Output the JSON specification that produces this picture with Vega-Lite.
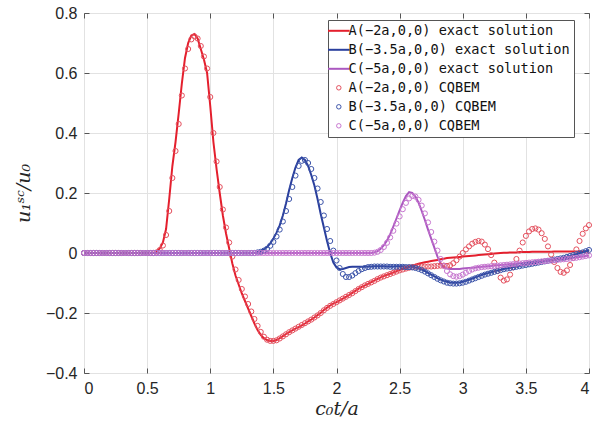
{
"$schema": "https://vega.github.io/schema/vega-lite/v6.json",
"width": 505, "height": 360,
"autosize": {"type": "none"},
"padding": {"left": 84, "top": 13, "right": 17, "bottom": 50},
"background": "white",
"config": {
  "view": {"stroke": "#3a3a3a", "strokeWidth": 1},
  "axis": {"labelFont": "Liberation Sans", "labelFontSize": 16, "labelColor": "#262626", "gridColor": "#e2e2e2", "gridWidth": 1, "domain": false, "tickColor": "#555", "tickSize": -5, "tickWidth": 1, "titleColor": "#262626", "titleFont": "DejaVu Serif", "titleFontStyle": "italic", "titleFontWeight": "normal", "titleFontSize": 19}
},
"data": {"values": [
{"t":0,"A":0,"B":0,"C":0,"a":0,"b":0,"c":0},
{"t":0.025,"A":0,"B":0,"C":0,"a":0,"b":0,"c":0},
{"t":0.05,"A":0,"B":0,"C":0,"a":0,"b":0,"c":0},
{"t":0.075,"A":0,"B":0,"C":0,"a":0,"b":0,"c":0},
{"t":0.1,"A":0,"B":0,"C":0,"a":0,"b":0,"c":0},
{"t":0.125,"A":0,"B":0,"C":0,"a":0,"b":0,"c":0},
{"t":0.15,"A":0,"B":0,"C":0,"a":0,"b":0,"c":0},
{"t":0.175,"A":0,"B":0,"C":0,"a":0,"b":0,"c":0},
{"t":0.2,"A":0,"B":0,"C":0,"a":0,"b":0,"c":0},
{"t":0.225,"A":0,"B":0,"C":0,"a":0,"b":0,"c":0},
{"t":0.25,"A":0,"B":0,"C":0,"a":0,"b":0,"c":0},
{"t":0.275,"A":0,"B":0,"C":0,"a":0,"b":0,"c":0},
{"t":0.3,"A":0,"B":0,"C":0,"a":0,"b":0,"c":0},
{"t":0.325,"A":0,"B":0,"C":0,"a":0,"b":0,"c":0},
{"t":0.35,"A":0,"B":0,"C":0,"a":0,"b":0,"c":0},
{"t":0.375,"A":0,"B":0,"C":0,"a":0,"b":0,"c":0},
{"t":0.4,"A":0,"B":0,"C":0,"a":0,"b":0,"c":0},
{"t":0.425,"A":0,"B":0,"C":0,"a":0,"b":0,"c":0},
{"t":0.45,"A":0,"B":0,"C":0,"a":0,"b":0,"c":0},
{"t":0.475,"A":0,"B":0,"C":0,"a":0,"b":0,"c":0},
{"t":0.5,"A":0,"B":0,"C":0,"a":0,"b":0,"c":0},
{"t":0.525,"A":0,"B":0,"C":0,"a":0,"b":0,"c":0},
{"t":0.55,"A":0,"B":0,"C":0,"a":0,"b":0,"c":0},
{"t":0.575,"A":0.005,"B":0,"C":0,"a":0.002,"b":0,"c":0},
{"t":0.6,"A":0.015,"B":0,"C":0,"a":0.01,"b":0,"c":0},
{"t":0.625,"A":0.035,"B":0,"C":0,"a":0.025,"b":0,"c":0},
{"t":0.65,"A":0.08,"B":0,"C":0,"a":0.06,"b":0,"c":0},
{"t":0.675,"A":0.18,"B":0,"C":0,"a":0.14,"b":0,"c":0},
{"t":0.7,"A":0.29,"B":0,"C":0,"a":0.25,"b":0,"c":0},
{"t":0.725,"A":0.37,"B":0,"C":0,"a":0.34,"b":0,"c":0},
{"t":0.75,"A":0.465,"B":0,"C":0,"a":0.43,"b":0,"c":0},
{"t":0.775,"A":0.565,"B":0,"C":0,"a":0.525,"b":0,"c":0},
{"t":0.8,"A":0.65,"B":0,"C":0,"a":0.615,"b":0,"c":0},
{"t":0.825,"A":0.7,"B":0,"C":0,"a":0.68,"b":0,"c":0},
{"t":0.85,"A":0.725,"B":0,"C":0,"a":0.712,"b":0,"c":0},
{"t":0.875,"A":0.73,"B":0,"C":0,"a":0.722,"b":0,"c":0},
{"t":0.9,"A":0.715,"B":0,"C":0,"a":0.715,"b":0,"c":0},
{"t":0.925,"A":0.68,"B":0,"C":0,"a":0.69,"b":0,"c":0},
{"t":0.95,"A":0.645,"B":0,"C":0,"a":0.655,"b":0,"c":0},
{"t":0.975,"A":0.6,"B":0,"C":0,"a":0.615,"b":0,"c":0},
{"t":1.0,"A":0.49,"B":0,"C":0,"a":0.52,"b":0,"c":0},
{"t":1.025,"A":0.37,"B":0,"C":0,"a":0.4,"b":0,"c":0},
{"t":1.05,"A":0.28,"B":0,"C":0,"a":0.305,"b":0,"c":0},
{"t":1.075,"A":0.2,"B":0,"C":0,"a":0.22,"b":0,"c":0},
{"t":1.1,"A":0.125,"B":0,"C":0,"a":0.145,"b":0,"c":0},
{"t":1.125,"A":0.065,"B":0,"C":0,"a":0.085,"b":0,"c":0},
{"t":1.15,"A":0.015,"B":0,"C":0,"a":0.035,"b":0,"c":0},
{"t":1.175,"A":-0.035,"B":0,"C":0,"a":-0.012,"b":0,"c":0},
{"t":1.2,"A":-0.075,"B":0,"C":0,"a":-0.055,"b":0,"c":0},
{"t":1.225,"A":-0.105,"B":0,"C":0,"a":-0.09,"b":0,"c":0},
{"t":1.25,"A":-0.135,"B":0,"C":0,"a":-0.12,"b":0,"c":0},
{"t":1.275,"A":-0.16,"B":0,"C":0,"a":-0.145,"b":0,"c":0},
{"t":1.3,"A":-0.185,"B":0,"C":0,"a":-0.17,"b":0,"c":0},
{"t":1.325,"A":-0.21,"B":0,"C":0,"a":-0.195,"b":0,"c":0},
{"t":1.35,"A":-0.235,"B":0,"C":0,"a":-0.22,"b":0,"c":0},
{"t":1.375,"A":-0.257,"B":0.003,"C":0,"a":-0.243,"b":0.002,"c":0},
{"t":1.4,"A":-0.273,"B":0.006,"C":0,"a":-0.263,"b":0.004,"c":0},
{"t":1.425,"A":-0.284,"B":0.012,"C":0,"a":-0.279,"b":0.008,"c":0},
{"t":1.45,"A":-0.29,"B":0.02,"C":0,"a":-0.289,"b":0.014,"c":0},
{"t":1.475,"A":-0.293,"B":0.032,"C":0,"a":-0.293,"b":0.024,"c":0},
{"t":1.5,"A":-0.293,"B":0.048,"C":0,"a":-0.293,"b":0.037,"c":0},
{"t":1.525,"A":-0.29,"B":0.068,"C":0,"a":-0.291,"b":0.055,"c":0},
{"t":1.55,"A":-0.284,"B":0.092,"C":0,"a":-0.285,"b":0.078,"c":0},
{"t":1.575,"A":-0.277,"B":0.125,"C":0,"a":-0.278,"b":0.105,"c":0},
{"t":1.6,"A":-0.27,"B":0.165,"C":0,"a":-0.271,"b":0.14,"c":0},
{"t":1.625,"A":-0.264,"B":0.21,"C":0,"a":-0.264,"b":0.18,"c":0},
{"t":1.65,"A":-0.258,"B":0.25,"C":0,"a":-0.258,"b":0.22,"c":0},
{"t":1.675,"A":-0.252,"B":0.285,"C":0,"a":-0.252,"b":0.258,"c":0},
{"t":1.7,"A":-0.247,"B":0.31,"C":0,"a":-0.246,"b":0.29,"c":0},
{"t":1.725,"A":-0.241,"B":0.318,"C":0,"a":-0.24,"b":0.307,"c":0},
{"t":1.75,"A":-0.235,"B":0.31,"C":0,"a":-0.234,"b":0.31,"c":0},
{"t":1.775,"A":-0.228,"B":0.29,"C":0,"a":-0.228,"b":0.3,"c":0},
{"t":1.8,"A":-0.222,"B":0.26,"C":0,"a":-0.222,"b":0.28,"c":0},
{"t":1.825,"A":-0.215,"B":0.225,"C":0,"a":-0.215,"b":0.25,"c":0},
{"t":1.85,"A":-0.207,"B":0.18,"C":0,"a":-0.208,"b":0.215,"c":0},
{"t":1.875,"A":-0.199,"B":0.13,"C":0,"a":-0.2,"b":0.17,"c":0},
{"t":1.9,"A":-0.19,"B":0.085,"C":0,"a":-0.191,"b":0.125,"c":0},
{"t":1.925,"A":-0.182,"B":0.04,"C":0,"a":-0.183,"b":0.08,"c":0},
{"t":1.95,"A":-0.175,"B":0,"C":0,"a":-0.176,"b":0.04,"c":0},
{"t":1.975,"A":-0.169,"B":-0.032,"C":0,"a":-0.17,"b":0.008,"c":0},
{"t":2.0,"A":-0.164,"B":-0.048,"C":0,"a":-0.164,"b":-0.025,"c":0},
{"t":2.025,"A":-0.158,"B":-0.054,"C":0,"a":-0.158,"b":-0.05,"c":0},
{"t":2.05,"A":-0.152,"B":-0.053,"C":0,"a":-0.152,"b":-0.07,"c":0},
{"t":2.075,"A":-0.146,"B":-0.05,"C":0,"a":-0.146,"b":-0.08,"c":0},
{"t":2.1,"A":-0.14,"B":-0.047,"C":0,"a":-0.14,"b":-0.08,"c":0},
{"t":2.125,"A":-0.133,"B":-0.046,"C":0,"a":-0.134,"b":-0.075,"c":0},
{"t":2.15,"A":-0.126,"B":-0.046,"C":0,"a":-0.127,"b":-0.067,"c":0},
{"t":2.175,"A":-0.119,"B":-0.046,"C":0,"a":-0.12,"b":-0.06,"c":0},
{"t":2.2,"A":-0.113,"B":-0.046,"C":0,"a":-0.114,"b":-0.054,"c":0},
{"t":2.225,"A":-0.108,"B":-0.046,"C":0,"a":-0.108,"b":-0.05,"c":0},
{"t":2.25,"A":-0.103,"B":-0.045,"C":0,"a":-0.103,"b":-0.047,"c":0},
{"t":2.275,"A":-0.097,"B":-0.045,"C":0,"a":-0.098,"b":-0.046,"c":0},
{"t":2.3,"A":-0.092,"B":-0.044,"C":0.002,"a":-0.093,"b":-0.045,"c":0.001},
{"t":2.325,"A":-0.086,"B":-0.044,"C":0.006,"a":-0.087,"b":-0.045,"c":0.004},
{"t":2.35,"A":-0.081,"B":-0.044,"C":0.014,"a":-0.082,"b":-0.045,"c":0.01},
{"t":2.375,"A":-0.077,"B":-0.044,"C":0.026,"a":-0.078,"b":-0.045,"c":0.02},
{"t":2.4,"A":-0.073,"B":-0.045,"C":0.042,"a":-0.074,"b":-0.045,"c":0.034},
{"t":2.425,"A":-0.069,"B":-0.045,"C":0.062,"a":-0.07,"b":-0.046,"c":0.052},
{"t":2.45,"A":-0.065,"B":-0.045,"C":0.088,"a":-0.066,"b":-0.046,"c":0.074},
{"t":2.475,"A":-0.061,"B":-0.044,"C":0.115,"a":-0.062,"b":-0.046,"c":0.098},
{"t":2.5,"A":-0.057,"B":-0.044,"C":0.142,"a":-0.058,"b":-0.046,"c":0.122},
{"t":2.525,"A":-0.053,"B":-0.044,"C":0.168,"a":-0.055,"b":-0.046,"c":0.146},
{"t":2.55,"A":-0.05,"B":-0.045,"C":0.19,"a":-0.052,"b":-0.047,"c":0.167},
{"t":2.575,"A":-0.046,"B":-0.045,"C":0.203,"a":-0.049,"b":-0.047,"c":0.182},
{"t":2.6,"A":-0.042,"B":-0.046,"C":0.2,"a":-0.047,"b":-0.048,"c":0.19},
{"t":2.625,"A":-0.039,"B":-0.048,"C":0.188,"a":-0.046,"b":-0.05,"c":0.188},
{"t":2.65,"A":-0.036,"B":-0.051,"C":0.168,"a":-0.045,"b":-0.053,"c":0.177},
{"t":2.675,"A":-0.033,"B":-0.055,"C":0.14,"a":-0.045,"b":-0.057,"c":0.158},
{"t":2.7,"A":-0.031,"B":-0.06,"C":0.11,"a":-0.045,"b":-0.062,"c":0.132},
{"t":2.725,"A":-0.029,"B":-0.066,"C":0.078,"a":-0.045,"b":-0.068,"c":0.102},
{"t":2.75,"A":-0.027,"B":-0.072,"C":0.048,"a":-0.045,"b":-0.074,"c":0.07},
{"t":2.775,"A":-0.025,"B":-0.078,"C":0.018,"a":-0.044,"b":-0.08,"c":0.038},
{"t":2.8,"A":-0.023,"B":-0.084,"C":-0.012,"a":-0.043,"b":-0.086,"c":0.008},
{"t":2.825,"A":-0.021,"B":-0.089,"C":-0.035,"a":-0.042,"b":-0.091,"c":-0.02},
{"t":2.85,"A":-0.019,"B":-0.093,"C":-0.047,"a":-0.042,"b":-0.095,"c":-0.043},
{"t":2.875,"A":-0.017,"B":-0.096,"C":-0.052,"a":-0.043,"b":-0.099,"c":-0.06},
{"t":2.9,"A":-0.016,"B":-0.098,"C":-0.053,"a":-0.041,"b":-0.101,"c":-0.071},
{"t":2.925,"A":-0.015,"B":-0.099,"C":-0.053,"a":-0.034,"b":-0.102,"c":-0.077},
{"t":2.95,"A":-0.014,"B":-0.099,"C":-0.053,"a":-0.024,"b":-0.102,"c":-0.079},
{"t":2.975,"A":-0.013,"B":-0.098,"C":-0.053,"a":-0.012,"b":-0.101,"c":-0.077},
{"t":3.0,"A":-0.012,"B":-0.096,"C":-0.052,"a":0,"b":-0.099,"c":-0.072},
{"t":3.025,"A":-0.011,"B":-0.093,"C":-0.051,"a":0.012,"b":-0.096,"c":-0.066},
{"t":3.05,"A":-0.01,"B":-0.089,"C":-0.05,"a":0.022,"b":-0.092,"c":-0.06},
{"t":3.075,"A":-0.009,"B":-0.085,"C":-0.049,"a":0.031,"b":-0.088,"c":-0.055},
{"t":3.1,"A":-0.008,"B":-0.081,"C":-0.048,"a":0.037,"b":-0.084,"c":-0.051},
{"t":3.125,"A":-0.007,"B":-0.077,"C":-0.047,"a":0.04,"b":-0.08,"c":-0.049},
{"t":3.15,"A":-0.006,"B":-0.073,"C":-0.046,"a":0.038,"b":-0.076,"c":-0.047},
{"t":3.175,"A":-0.005,"B":-0.07,"C":-0.045,"a":0.028,"b":-0.072,"c":-0.046},
{"t":3.2,"A":-0.004,"B":-0.067,"C":-0.044,"a":0.013,"b":-0.069,"c":-0.045},
{"t":3.225,"A":-0.003,"B":-0.064,"C":-0.043,"a":-0.007,"b":-0.066,"c":-0.044},
{"t":3.25,"A":-0.002,"B":-0.061,"C":-0.042,"a":-0.032,"b":-0.063,"c":-0.043},
{"t":3.275,"A":-0.001,"B":-0.058,"C":-0.041,"a":-0.06,"b":-0.06,"c":-0.042},
{"t":3.3,"A":0,"B":-0.056,"C":-0.04,"a":-0.082,"b":-0.057,"c":-0.041},
{"t":3.325,"A":0.001,"B":-0.053,"C":-0.039,"a":-0.092,"b":-0.054,"c":-0.04},
{"t":3.35,"A":0.001,"B":-0.051,"C":-0.038,"a":-0.088,"b":-0.052,"c":-0.039},
{"t":3.375,"A":0.002,"B":-0.049,"C":-0.037,"a":-0.072,"b":-0.05,"c":-0.038},
{"t":3.4,"A":0.002,"B":-0.047,"C":-0.036,"a":-0.048,"b":-0.048,"c":-0.037},
{"t":3.425,"A":0.002,"B":-0.045,"C":-0.035,"a":-0.02,"b":-0.046,"c":-0.036},
{"t":3.45,"A":0.003,"B":-0.043,"C":-0.034,"a":0.008,"b":-0.044,"c":-0.035},
{"t":3.475,"A":0.003,"B":-0.041,"C":-0.033,"a":0.035,"b":-0.042,"c":-0.034},
{"t":3.5,"A":0.003,"B":-0.039,"C":-0.032,"a":0.057,"b":-0.04,"c":-0.033},
{"t":3.525,"A":0.003,"B":-0.037,"C":-0.031,"a":0.072,"b":-0.038,"c":-0.032},
{"t":3.55,"A":0.004,"B":-0.035,"C":-0.03,"a":0.08,"b":-0.036,"c":-0.031},
{"t":3.575,"A":0.004,"B":-0.033,"C":-0.029,"a":0.082,"b":-0.034,"c":-0.03},
{"t":3.6,"A":0.004,"B":-0.031,"C":-0.028,"a":0.078,"b":-0.032,"c":-0.029},
{"t":3.625,"A":0.004,"B":-0.029,"C":-0.027,"a":0.066,"b":-0.03,"c":-0.028},
{"t":3.65,"A":0.004,"B":-0.027,"C":-0.026,"a":0.047,"b":-0.028,"c":-0.027},
{"t":3.675,"A":0.004,"B":-0.025,"C":-0.025,"a":0.022,"b":-0.026,"c":-0.026},
{"t":3.7,"A":0.004,"B":-0.023,"C":-0.024,"a":-0.005,"b":-0.024,"c":-0.025},
{"t":3.725,"A":0.005,"B":-0.021,"C":-0.023,"a":-0.03,"b":-0.022,"c":-0.024},
{"t":3.75,"A":0.005,"B":-0.019,"C":-0.022,"a":-0.05,"b":-0.02,"c":-0.023},
{"t":3.775,"A":0.005,"B":-0.017,"C":-0.021,"a":-0.063,"b":-0.018,"c":-0.022},
{"t":3.8,"A":0.005,"B":-0.015,"C":-0.02,"a":-0.066,"b":-0.016,"c":-0.021},
{"t":3.825,"A":0.005,"B":-0.012,"C":-0.019,"a":-0.058,"b":-0.013,"c":-0.02},
{"t":3.85,"A":0.005,"B":-0.01,"C":-0.018,"a":-0.04,"b":-0.01,"c":-0.019},
{"t":3.875,"A":0.005,"B":-0.007,"C":-0.016,"a":-0.016,"b":-0.007,"c":-0.017},
{"t":3.9,"A":0.005,"B":-0.004,"C":-0.015,"a":0.012,"b":-0.004,"c":-0.016},
{"t":3.925,"A":0.005,"B":-0.001,"C":-0.013,"a":0.04,"b":-0.001,"c":-0.014},
{"t":3.95,"A":0.005,"B":0.002,"C":-0.012,"a":0.064,"b":0.002,"c":-0.012},
{"t":3.975,"A":0.005,"B":0.006,"C":-0.01,"a":0.082,"b":0.006,"c":-0.01},
{"t":4.0,"A":0.005,"B":0.01,"C":-0.008,"a":0.093,"b":0.01,"c":-0.008}
]},
"resolve": {"axis": {"x": "independent", "y": "independent"}},
"layer": [
  {
    "transform": [{"fold": ["A", "B", "C"], "as": ["series", "v"]}],
    "mark": {"type": "line", "strokeWidth": 2},
    "encoding": {
      "x": {"field": "t", "type": "quantitative", "scale": {"domain": [0, 4], "nice": false}, "axis": {"values": [0, 0.5, 1, 1.5, 2, 2.5, 3, 3.5, 4], "format": "~g", "labelPadding": 12, "title": "c₀t/a", "titlePadding": 3}},
      "y": {"field": "v", "type": "quantitative", "scale": {"domain": [-0.4, 0.8], "nice": false}, "axis": {"values": [-0.4, -0.2, 0, 0.2, 0.4, 0.6, 0.8], "format": "~g", "labelPadding": 12, "title": "u₁ˢᶜ/u₀", "titlePadding": 12}},
      "color": {"field": "series", "type": "nominal",
        "scale": {"domain": ["A", "B", "C", "a", "b", "c"], "range": ["#e41f2d", "#2a3f9d", "#ab58c0", "#e4505e", "#3d55aa", "#c777d0"]},
        "legend": {"orient": "none", "legendX": 244, "legendY": 7, "title": null, "labelFont": "DejaVu Sans Mono", "labelFontSize": 13.6, "labelColor": "#111", "strokeColor": "#555", "fillColor": "white", "padding": 4, "rowPadding": 4, "labelOffset": 3, "symbolSize": 324, "symbolStrokeWidth": 2, "labelLimit": 400,
          "labelExpr": "datum.label == 'A' ? 'A(−2a,0,0) exact solution' : datum.label == 'B' ? 'B(−3.5a,0,0) exact solution' : datum.label == 'C' ? 'C(−5a,0,0) exact solution' : datum.label == 'a' ? 'A(−2a,0,0) CQBEM' : datum.label == 'b' ? 'B(−3.5a,0,0) CQBEM' : 'C(−5a,0,0) CQBEM'",
          "encode": {"symbols": {"update": {
            "shape": {"signal": "indexof(['A','B','C'], datum.value) >= 0 ? 'M-1.2,0H1.2' : 'circle'"},
            "size": {"signal": "indexof(['A','B','C'], datum.value) >= 0 ? 324 : 20"},
            "strokeWidth": {"signal": "indexof(['A','B','C'], datum.value) >= 0 ? 2 : 1"},
            "fill": {"value": "transparent"},
            "stroke": {"scale": "color", "field": "value"},
            "opacity": {"value": 1}
          }}}
        }}
    }
  },
  {
    "transform": [{"fold": ["a", "b", "c"], "as": ["series", "v"]}],
    "mark": {"type": "point", "filled": false, "size": 26, "strokeWidth": 1, "opacity": 1},
    "encoding": {
      "x": {"field": "t", "type": "quantitative", "axis": {"orient": "top", "values": [0, 0.5, 1, 1.5, 2, 2.5, 3, 3.5, 4], "labels": false, "grid": false, "title": null}},
      "y": {"field": "v", "type": "quantitative", "axis": {"orient": "right", "values": [-0.4, -0.2, 0, 0.2, 0.4, 0.6, 0.8], "labels": false, "grid": false, "title": null}},
      "color": {"field": "series", "type": "nominal"},
      "order": {"field": "series"}
    }
  }
]
}
